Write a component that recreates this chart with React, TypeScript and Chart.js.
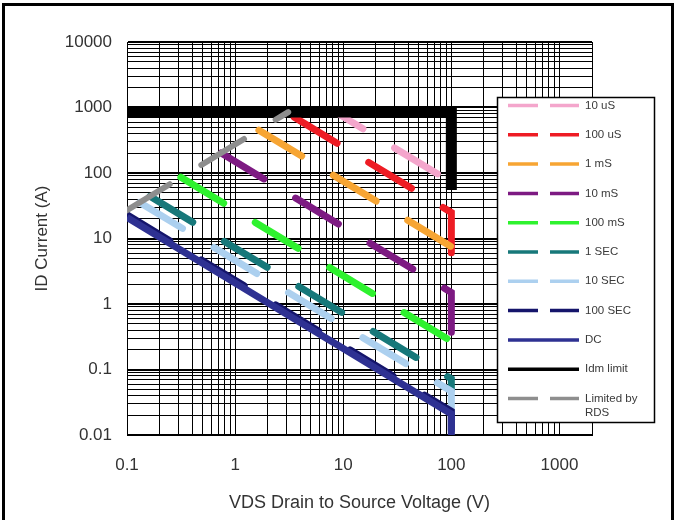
import React, { useEffect, useRef } from 'react';
import { Chart, registerables } from 'chart.js';

Chart.register(...registerables);

// ---- axes ----
const xDecades = [0.1, 1, 10, 100, 1000];
const xTickLabels = ['0.1', '1', '10', '100', '1000'];
const xMin = 0.1;
const xMax = 2000;
const yDecades = [0.01, 0.1, 1, 10, 100, 1000, 10000];
const yTickLabels = ['0.01', '0.1', '1', '10', '100', '1000', '10000'];
const yMin = 0.01;
const yMax = 10000;
const xTitle = 'VDS Drain to Source Voltage (V)';
const yTitle = 'ID Current (A)';

// ---- series: drain-source voltage (V) and drain current (A) ----
const us10V = [8.5, 100, 100];
const us10I = [850, 72, 35];
const us100V = [2.94, 100, 100];
const us100I = [850, 25, 5.2];
const ms1V = [1.66, 100, 100];
const ms1I = [451, 7.5, 4.6];
const ms10V = [0.743, 100, 100];
const ms10I = [202, 1.5, 0.37];
const ms100V = [0.315, 100];
const ms100I = [86, 0.27];
const sec1V = [0.163, 100, 100];
const sec1I = [44, 0.072, 0.05];
const sec10V = [0.131, 100, 100];
const sec10I = [35.5, 0.0465, 0.02];
const sec100V = [0.1, 100, 100];
const sec100I = [23, 0.023, 0.01];
const dcV = [0.1, 100, 100];
const dcI = [21, 0.021, 0.01];
const idmV = [0.1, 100, 100];
const idmI = [850, 850, 55];
const rdsV = [0.1, 3.1];
const rdsI = [27, 850];

const seriesNames = ['10 uS', '100 uS', '1 mS', '10 mS', '100 mS', '1 SEC', '10 SEC', '100 SEC', 'DC', 'Idm limit', 'Limited by RDS'];
const seriesV = [us10V, us100V, ms1V, ms10V, ms100V, sec1V, sec10V, sec100V, dcV, idmV, rdsV];
const seriesI = [us10I, us100I, ms1I, ms10I, ms100I, sec1I, sec10I, sec100I, dcI, idmI, rdsI];

// ---- styles (kept apart from data) ----
const styles = [
  { color: '#f4a6cc', dashed: true, width: 7, offset: 18, order: 10 },
  { color: '#ee1c24', dashed: true, width: 7, offset: 77, order: 9 },
  { color: '#f7a533', dashed: true, width: 7, offset: 0, order: 8 },
  { color: '#7d1a82', dashed: true, width: 7, offset: 0, order: 7 },
  { color: '#2ef22e', dashed: true, width: 7, offset: 0, order: 6 },
  { color: '#17787a', dashed: true, width: 7, offset: 0, order: 5 },
  { color: '#acd0ef', dashed: true, width: 7, offset: 0, order: 4 },
  { color: '#15156b', dashed: true, width: 7, offset: 0, order: 3 },
  { color: '#2e3192', dashed: false, width: 7, offset: 0, order: 2 },
  { color: '#000000', dashed: false, width: 11, offset: 0, order: 1 },
  { color: '#8e8e8e', dashed: true, width: 6, offset: 0, order: 0 },
];

const FONT = "'Liberation Sans', Arial, sans-serif";

function minorTicks(decades: number[], max: number) {
  const out: { value: number }[] = [];
  decades.forEach((d) => {
    for (let k = 1; k <= 9; k++) {
      const v = d * k;
      if (v <= max) out.push({ value: v });
    }
  });
  if (out[out.length - 1].value < max) out.push({ value: max });
  return out;
}

const legendPlugin = {
  id: 'soaLegend',
  beforeDraw(chart: any) {
    const ctx = chart.ctx;
    ctx.save();
    ctx.fillStyle = '#ffffff';
    ctx.fillRect(0, 0, chart.width, chart.height);
    ctx.restore();
  },
  afterDraw(chart: any) {
    const ctx = chart.ctx;
    ctx.save();
    // legend box
    const bx = 497, by = 97, bw = 157, bh = 325;
    ctx.fillStyle = '#ffffff';
    ctx.fillRect(bx, by, bw, bh);
    ctx.strokeStyle = '#000';
    ctx.lineWidth = 1.5;
    ctx.strokeRect(bx + 0.5, by + 0.5, bw, bh);
    ctx.font = `11.5px ${FONT}`;
    ctx.textBaseline = 'middle';
    ctx.textAlign = 'left';
    seriesNames.forEach((name, i) => {
      const st = styles[i];
      const y = 105.5 + i * 29.3;
      ctx.strokeStyle = st.color;
      ctx.lineWidth = 3.5;
      ctx.lineCap = 'butt';
      ctx.beginPath();
      if (st.dashed) {
        ctx.moveTo(508, y); ctx.lineTo(538, y);
        ctx.moveTo(550, y); ctx.lineTo(579, y);
      } else {
        ctx.moveTo(508, y); ctx.lineTo(579, y);
      }
      ctx.stroke();
      ctx.fillStyle = '#3a3a3a';
      if (name === 'Limited by RDS') {
        ctx.fillText('Limited by', 585, y);
        ctx.fillText('RDS', 585, y + 14);
      } else {
        ctx.fillText(name, 585, y);
      }
    });
    // outer frame
    ctx.fillStyle = '#000';
    ctx.fillRect(2, 3, 3, chart.height - 3);
    ctx.fillRect(2, 3, 672, 3);
    ctx.fillRect(671, 3, 3, chart.height - 3);
    ctx.restore();
  },
};

export default function App() {
  const ref = useRef<HTMLCanvasElement>(null);
  useEffect(() => {
    if (!ref.current) return;
    const datasets = seriesNames.map((name, s) => {
      const st = styles[s];
      return {
        label: name,
        data: seriesV[s].map((v, k) => ({ x: v, y: seriesI[s][k] })),
        borderColor: st.color,
        backgroundColor: st.color,
        borderWidth: st.width,
        borderDash: st.dashed ? [50, 37] : [],
        borderDashOffset: st.offset,
        borderCapStyle: st.dashed ? 'round' : 'butt',
        borderJoinStyle: 'miter',
        pointRadius: 0,
        pointHoverRadius: 0,
        tension: 0,
        fill: false,
        order: st.order,
        clip: 0,
      };
    });
    const chart = new Chart(ref.current, {
      type: 'line',
      data: { datasets: datasets as any },
      options: {
        responsive: false,
        animation: false,
        devicePixelRatio: 1,
        layout: { padding: { left: 0, right: 84, top: 42, bottom: 0 } },
        plugins: { legend: { display: false }, tooltip: { enabled: false }, title: { display: false } },
        scales: {
          x: {
            type: 'logarithmic',
            min: xMin,
            max: xMax,
            afterBuildTicks: (scale: any) => { scale.ticks = minorTicks(xDecades, xMax); },
            afterFit: (scale: any) => { scale.height = 85; },
            ticks: {
              autoSkip: false,
              maxRotation: 0,
              padding: 20,
              color: '#333',
              font: { family: FONT, size: 17 },
              callback: (value: any) => { const k = xDecades.indexOf(Number(value)); return k >= 0 ? xTickLabels[k] : ''; },
            },
            grid: { color: '#000', lineWidth: 1, drawTicks: false },
            border: { display: true, color: '#000', width: 1 },
            title: { display: true, text: xTitle, color: '#333', font: { family: FONT, size: 18 }, padding: { top: 0, bottom: 6 } },
          },
          y: {
            type: 'logarithmic',
            min: yMin,
            max: yMax,
            afterBuildTicks: (scale: any) => { scale.ticks = minorTicks(yDecades, yMax); },
            afterFit: (scale: any) => { scale.width = 127; },
            ticks: {
              autoSkip: false,
              padding: 15,
              color: '#333',
              font: { family: FONT, size: 17 },
              callback: (value: any) => { const k = yDecades.indexOf(Number(value)); return k >= 0 ? yTickLabels[k] : ''; },
            },
            grid: {
              color: '#000',
              drawTicks: false,
              lineWidth: (c: any) => (c.tick && yDecades.indexOf(c.tick.value) >= 0 ? 2 : 1),
            },
            border: { display: true, color: '#000', width: 1 },
            title: { display: true, text: yTitle, color: '#333', font: { family: FONT, size: 17 }, padding: { top: 32, bottom: 0 } },
          },
        },
      },
      plugins: [legendPlugin],
    });
    return () => chart.destroy();
  }, []);
  return (
    <div style={{ position: 'absolute', left: 0, top: 0, width: 676, height: 520 }}>
      <canvas ref={ref} width={676} height={520} style={{ width: 676, height: 520, display: 'block' }} />
    </div>
  );
}
